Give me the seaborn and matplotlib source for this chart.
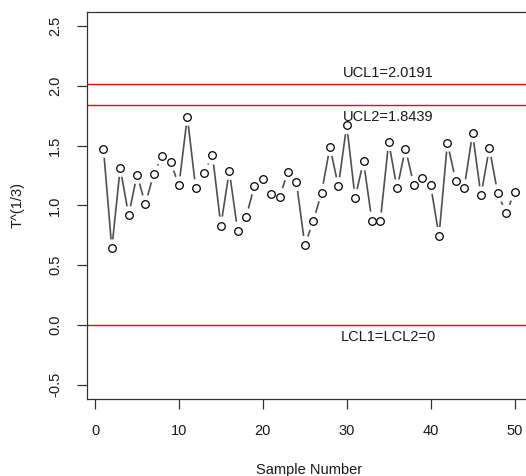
import matplotlib
matplotlib.use("Agg")
import matplotlib.pyplot as plt
import seaborn as sns
import pandas as pd

# T^(1/3) values, samples 1..50
sample = list(range(1, 51))
t_cuberoot = [
    1.476, 0.641, 1.315, 0.919, 1.256, 1.012, 1.267, 1.414, 1.363, 1.169,
    1.743, 1.144, 1.276, 1.419, 0.832, 1.290, 0.789, 0.902, 1.166, 1.223,
    1.099, 1.074, 1.282, 1.197, 0.669, 0.866, 1.107, 1.490, 1.161, 1.672,
    1.065, 1.369, 0.874, 0.866, 1.532, 1.144, 1.476, 1.172, 1.231, 1.172,
    0.745, 1.526, 1.206, 1.144, 1.605, 1.085, 1.481, 1.102, 0.936, 1.110,
]
limits = [2.0191, 1.8439, 0.0]
limit_labels = ["UCL1=2.0191", "UCL2=1.8439", "LCL1=LCL2=0"]

df = pd.DataFrame({"sample": sample, "t": t_cuberoot})

sns.set_style("white")
plt.rcParams["font.family"] = ["Liberation Sans", "DejaVu Sans"]

fig = plt.figure(figsize=(5.26, 4.76), dpi=100)
ax = fig.add_axes([0.1654, 0.1618, 0.844, 0.813])

# control limits
for lim in limits:
    ax.axhline(lim, color="red", lw=1.0, zorder=1)

# R style type="b": line with gaps around the points
sns.lineplot(data=df, x="sample", y="t", ax=ax, color="#505050", lw=1.2, zorder=2)
sns.scatterplot(data=df, x="sample", y="t", ax=ax, s=170, color="white",
                edgecolor="none", zorder=3)
sns.scatterplot(data=df, x="sample", y="t", ax=ax, s=30, facecolor="white",
                edgecolor="black", linewidth=0.9, zorder=4)

ax.annotate(limit_labels[0], (35, limits[0]), xytext=(0, 3), textcoords="offset points",
            ha="center", va="bottom", fontsize=10.5, color="#1a1a1a")
ax.annotate(limit_labels[1], (35, limits[1]), xytext=(0, -4), textcoords="offset points",
            ha="center", va="top", fontsize=10.5, color="#1a1a1a")
ax.annotate(limit_labels[2], (35, limits[2]), xytext=(0, -4), textcoords="offset points",
            ha="center", va="top", fontsize=10.5, color="#1a1a1a")

ax.set_xlim(-0.96, 51.96)
ax.set_ylim(-0.62, 2.62)
ax.set_xticks([0, 10, 20, 30, 40, 50])
ax.set_yticks([-0.5, 0.0, 0.5, 1.0, 1.5, 2.0, 2.5])
ax.set_yticklabels(["-0.5", "0.0", "0.5", "1.0", "1.5", "2.0", "2.5"],
                   rotation=90, va="center")
ax.tick_params(axis="both", which="both", direction="out", length=7, width=0.9,
               color="#333333", labelsize=10.5, labelcolor="#1a1a1a", left=True, bottom=True)
ax.tick_params(axis="x", pad=11)
ax.tick_params(axis="y", pad=11)
for sp in ax.spines.values():
    sp.set_color("#333333")
    sp.set_linewidth(0.9)

ax.set_xlabel("Sample Number", fontsize=10.5, color="#1a1a1a", labelpad=18)
ax.set_ylabel("T^(1/3)", fontsize=10.5, color="#1a1a1a", labelpad=17)

fig.savefig("out.png", dpi=100)
